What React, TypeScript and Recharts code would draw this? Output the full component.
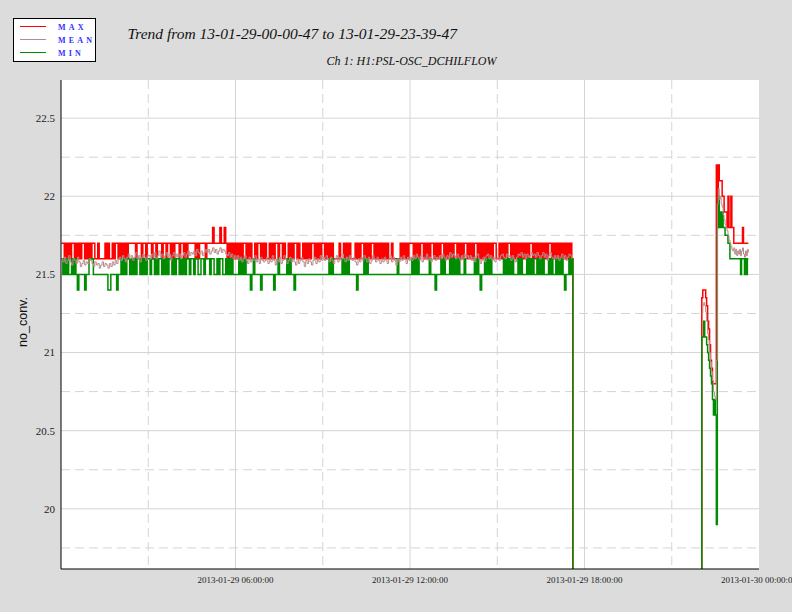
import { CartesianGrid, Legend, Line, LineChart, XAxis, YAxis } from "recharts";

const W = 792;
const H = 612;

const TITLE = "Trend from 13-01-29-00-00-47 to 13-01-29-23-39-47";
const SUBTITLE = "Ch 1: H1:PSL-OSC_DCHILFLOW";
const Y_LABEL = "no_conv.";

// x is hours since 2013-01-29 00:00:00
const X_TICKS = [6, 12, 18, 24];
const X_TICK_LABELS = ["2013-01-29 06:00:00", "2013-01-29 12:00:00", "2013-01-29 18:00:00", "2013-01-30 00:00:00"];
const X_MAJOR = [6, 12, 18];
const X_MINOR = [3, 9, 15, 21];
const Y_TICKS = [20, 20.5, 21, 21.5, 22, 22.5];
const Y_MINOR = [19.75, 20.25, 20.75, 21.25, 21.75, 22.25];
const Y_DOMAIN = [19.615, 22.744];

// first block, 3 min samples from 00:00:47, one string per hour
// MAX / MIN: digit d = 21.d   MEAN: two digits xx = 21.xx
const S1_START = 47 / 3600;
const S1_STEP = 3 / 60;

const MAX_S1 = [
  "77676767767676776767",
  "67766766667676676776",
  "76767677777677767767",
  "77677677767767767677",
  "76776767777767677776",
  "77778777787787676767",
  "67676776767667677676",
  "76676767767767667676",
  "77676676767677676767",
  "76767676666766767676",
  "66767677676767767676",
  "76767667666667676767",
  "77676767767676776767",
  "67767676767767676776",
  "76767767676767676776",
  "67676767767676767676",
  "76776767676767677676",
  "767676767676",
];

const MIN_S1 = [
  "65656556565455554556",
  "66555555555544555545",
  "56565665656566565656",
  "65665656656565665656",
  "65656566566566556656",
  "66566556566556565655",
  "55656565554565555455",
  "55555545565555565655",
  "45555555555555555555",
  "55556565555556565655",
  "55545555656555555555",
  "55555555555655555555",
  "56565655555556555455",
  "56565556565656555655",
  "55556565455656565555",
  "55556565656555656555",
  "65656556565655565655",
  "656565455656",
];

const MEAN_S1 = [
  "60 58 61 57 59 62 58 56 60 59 57 61 58 55 57 59 56 58 57 60",
  "59 57 55 58 56 57 54 56 58 55 57 56 54 57 55 58 56 59 57 60",
  "61 59 62 60 58 61 63 60 62 59 61 64 60 62 58 61 63 61 59 62",
  "62 60 63 61 64 60 62 65 61 63 60 62 64 61 63 59 62 64 61 63",
  "61 63 60 62 64 61 63 65 62 64 63 65 62 66 64 63 65 62 64 66",
  "64 66 63 65 67 64 66 63 65 67 64 66 65 63 62 64 61 63 60 62",
  "60 62 59 61 58 60 62 59 57 61 58 60 59 62 58 60 57 61 59 58",
  "59 61 57 60 58 62 59 56 60 58 61 57 59 62 60 57 59 61 58 60",
  "58 56 60 57 59 61 58 55 59 57 60 58 56 59 61 57 60 58 62 59",
  "61 59 62 60 58 61 59 57 60 62 58 61 59 63 60 58 61 59 62 60",
  "59 61 58 56 60 58 61 59 62 60 58 61 57 59 62 60 58 61 59 57",
  "60 58 61 59 57 60 62 58 61 59 56 60 58 61 59 62 60 57 61 59",
  "61 59 62 60 63 61 59 62 58 61 60 63 59 61 58 60 62 59 61 60",
  "62 60 63 61 59 62 60 64 61 63 62 60 63 61 59 62 60 63 61 62",
  "60 62 59 61 58 62 63 60 57 59 61 58 62 63 60 62 59 61 58 60",
  "61 59 62 63 61 60 63 61 62 59 62 60 58 61 63 62 64 61 63 60",
  "63 61 62 64 62 63 61 64 62 60 62 64 61 63 59 62 64 61 60 62",
  "60 62 59 61 63 60 62 59 61 63 62 60",
];

// signal drop-out between the two blocks
const DROP_OUT_T = 17.6;
const DROP_IN_T = 22.0;
const DROP_VALUE = 0;

// second block, 2 min samples from 22:02
const S2_START = 22 + 2 / 60;
const S2_STEP = 2 / 60;

const MAX_S2 = [
  21.35, 21.4, 21.4, 21.4, 21.35, 21.3, 21.2, 21.15, 21.05, 20.95, 20.9, 20.8, 20.8, 20.8, 20.8,
  22.2, 21.8, 22.2, 22.1, 22.1, 22.1, 22.0, 22.0, 21.9, 21.9, 21.9, 21.8, 22.0, 21.8, 21.8, 22.0, 21.8, 21.8,
  21.7, 21.7, 21.7, 21.7, 21.7, 21.7, 21.7, 21.7, 21.7, 21.8, 21.7, 21.7, 21.7, 21.7, 21.7, 21.7,
];
const MIN_S2 = [
  21.1, 21.1, 21.2, 21.1, 21.1, 21.05, 21.0, 20.95, 20.9, 20.85, 20.8, 20.7, 20.6, 20.7, 20.6,
  19.9, 21.8, 22.0, 21.8, 21.9, 21.8, 21.9, 21.8, 21.8, 21.75, 21.75, 21.75, 21.7, 21.7, 21.6, 21.6, 21.6, 21.6,
  21.6, 21.6, 21.6, 21.6, 21.6, 21.6, 21.6, 21.5, 21.6, 21.6, 21.6, 21.5, 21.6, 21.5, 21.6, 21.6,
];
const MEAN_S2 = [
  21.25, 21.3, 21.32, 21.3, 21.26, 21.2, 21.12, 21.08, 21.0, 20.94, 20.88, 20.82, 20.75, 20.72, 20.7,
  20.95, 21.95, 22.05, 21.98, 22.0, 21.95, 21.93, 21.88, 21.85, 21.82, 21.8, 21.78, 21.75, 21.72, 21.7, 21.68, 21.66, 21.65,
  21.67, 21.63, 21.66, 21.62, 21.65, 21.63, 21.66, 21.62, 21.65, 21.67, 21.63, 21.61, 21.65, 21.62, 21.66, 21.64,
];

const LEGEND_ORDER = ["MAX", "MEAN", "MIN"];

type Row = { t: number; max: number | null; mean: number | null; min: number | null };

const tenths = (chunks: string[]) => chunks.join("").split("").map((c) => 21 + Number(c) / 10);
const hundredths = (chunks: string[]) =>
  chunks.join(" ").trim().split(/\s+/).map((s) => 21 + Number(s) / 100);

const maxS1 = tenths(MAX_S1);
const minS1 = tenths(MIN_S1);
const meanS1 = hundredths(MEAN_S1);

const rows: Row[] = [];
maxS1.forEach((v, i) => {
  rows.push({ t: S1_START + i * S1_STEP, max: v, min: minS1[i] ?? null, mean: meanS1[i] ?? null });
});
rows.push({ t: DROP_OUT_T, max: DROP_VALUE, min: DROP_VALUE, mean: null });
rows.push({ t: (DROP_OUT_T + DROP_IN_T) / 2, max: null, min: null, mean: null });
rows.push({ t: DROP_IN_T, max: DROP_VALUE, min: DROP_VALUE, mean: null });
MAX_S2.forEach((v, i) => {
  rows.push({ t: S2_START + i * S2_STEP, max: v, min: MIN_S2[i] ?? null, mean: MEAN_S2[i] ?? null });
});

const SERIF = '"Liberation Serif", "Times New Roman", serif';
const SANS = '"Liberation Sans", Arial, sans-serif';

function TrendLegend(props: any) {
  const payload: any[] = props.payload || [];
  const items = LEGEND_ORDER.map((n) => payload.find((p) => p.value === n)).filter(Boolean);
  return (
    <div style={{ width: 81, height: 42, border: "1px solid #000", background: "#fff" }}>
      <svg width={81} height={42} style={{ display: "block" }}>
        {items.map((p: any, i: number) => (
          <g key={p.value}>
            <line x1={6} x2={32} y1={7.5 + i * 13} y2={7.5 + i * 13} stroke={p.color} />
            <text
              x={44}
              y={11 + i * 12.9}
              fill="#3434ff"
              fontFamily={SERIF}
              fontWeight="bold"
              fontSize={8}
              letterSpacing={3.2}
            >
              {p.value}
            </text>
          </g>
        ))}
      </svg>
    </div>
  );
}

export default function App() {
  return (
    <div style={{ position: "relative", width: W, height: H, background: "#dcdcdc" }}>
      <style>{"body{margin:0}"}</style>
      <LineChart width={W} height={H} data={rows} margin={{ top: 80, right: 33, bottom: 13, left: 11 }}>
        <CartesianGrid fill="#fff" stroke="#d4d4d4" horizontalValues={Y_TICKS} verticalValues={X_MAJOR} />
        <CartesianGrid stroke="#d4d4d4" strokeDasharray="9 5" horizontalValues={Y_MINOR} verticalValues={X_MINOR} />
        <XAxis
          dataKey="t"
          type="number"
          domain={[0, 24]}
          allowDataOverflow
          ticks={X_TICKS}
          interval={0}
          tickFormatter={(v: number) => X_TICK_LABELS[X_TICKS.indexOf(v)] ?? ""}
          tickLine={false}
          tickSize={6}
          tickMargin={2}
          axisLine={{ stroke: "#000" }}
          tick={{ fontSize: 9, fontFamily: SERIF, fill: "#222" }}
          height={30}
        />
        <XAxis xAxisId="top" orientation="top" type="number" domain={[0, 24]} height={0} tick={false} tickLine={false} axisLine={{ stroke: "#000" }} />
        <YAxis
          type="number"
          domain={Y_DOMAIN}
          allowDataOverflow
          ticks={Y_TICKS}
          interval={0}
          tickLine={false}
          tickSize={6}
          tickMargin={0}
          axisLine={{ stroke: "#000" }}
          tick={{ fontSize: 11, fontFamily: SERIF, fill: "#222" }}
          width={50}
        />
        <YAxis yAxisId="right" orientation="right" type="number" domain={Y_DOMAIN} width={0} tick={false} tickLine={false} axisLine={{ stroke: "#000" }} />
        <Legend
          layout="horizontal"
          verticalAlign="middle"
          align="center"
          wrapperStyle={{ left: 13, top: 18, width: 83, height: 44, margin: 0, padding: 0, lineHeight: 0 }}
          content={(p: any) => <TrendLegend {...p} />}
        />
        <Line name="MAX" type="stepAfter" dataKey="max" stroke="#ff0000" strokeWidth={1.5} dot={false} activeDot={false} isAnimationActive={false} />
        <Line name="MIN" type="stepAfter" dataKey="min" stroke="#008c00" strokeWidth={1.5} dot={false} activeDot={false} isAnimationActive={false} />
        <Line name="MEAN" type="stepAfter" dataKey="mean" stroke="#b88a8a" strokeWidth={1} dot={false} activeDot={false} isAnimationActive={false} />
      </LineChart>
      <svg width={W} height={H} style={{ position: "absolute", left: 0, top: 0, pointerEvents: "none" }}>
        <text x={127.5} y={38.5} fontFamily={SERIF} fontStyle="italic" fontSize={15.5} fill="#111">
          {TITLE}
        </text>
        <text x={326.5} y={65} fontFamily={SERIF} fontStyle="italic" fontSize={12} fill="#111">
          {SUBTITLE}
        </text>
        <text transform="translate(27,322) rotate(-90)" textAnchor="middle" fontFamily={SANS} fontSize={12.5} fill="#111">
          {Y_LABEL}
        </text>
      </svg>
    </div>
  );
}
